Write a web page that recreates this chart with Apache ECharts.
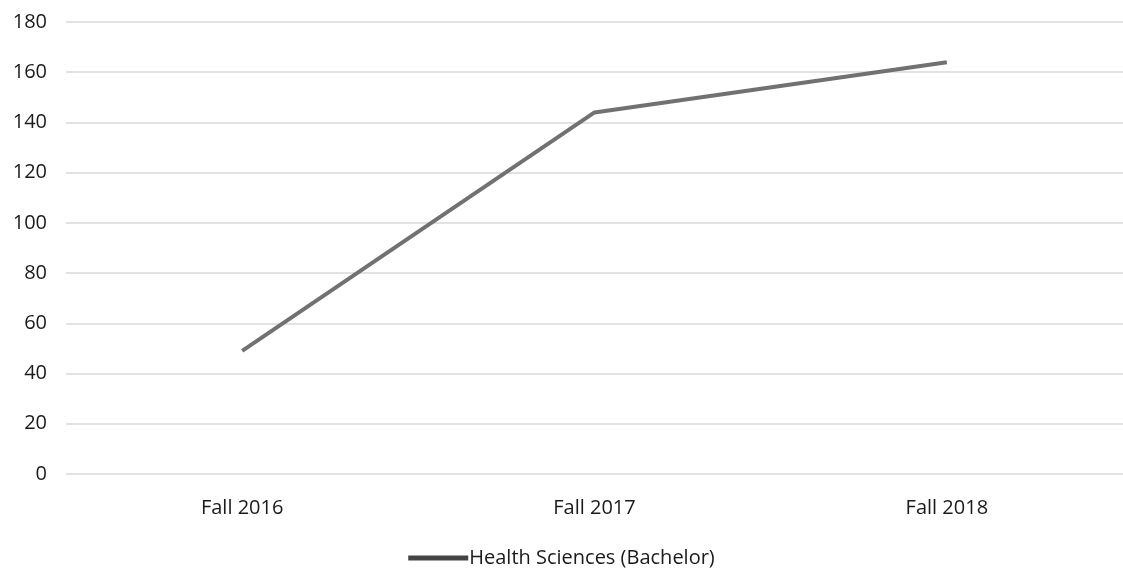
<!DOCTYPE html>
<html>
<head>
<meta charset="utf-8">
<script src="https://cdn.jsdelivr.net/npm/echarts@6/dist/echarts.min.js"></script>
<style>
  html, body { margin: 0; padding: 0; background: #fff; }
  #chart { width: 1123px; height: 573px; }
</style>
</head>
<body>
<div id="chart"></div>
<script>
var categories = ['Fall 2016', 'Fall 2017', 'Fall 2018'];
var seriesName = 'Health Sciences (Bachelor)';
var values = [49, 144, 164];

var myChart = echarts.init(document.getElementById('chart'));
var option = {
    animation: false,
    textStyle: { fontFamily: 'Open Sans, Liberation Sans, sans-serif' },
    grid: { left: 66, right: 0, top: 22, bottom: 99 },
    legend: {
        bottom: 0,
        left: 'center',
        data: [seriesName],
        icon: 'rect',
        itemWidth: 60,
        itemHeight: 5,
        itemGap: 0,
        textStyle: { fontSize: 20, color: '#1a1a1a', padding: [0, 0, 0, -4] }
    },
    xAxis: {
        type: 'category',
        data: categories,
        axisLine: { show: false },
        axisTick: { show: false },
        axisLabel: { fontSize: 20, color: '#1a1a1a', margin: 24 }
    },
    yAxis: {
        type: 'value',
        min: 0,
        max: 180,
        interval: 20,
        axisLine: { show: false },
        axisTick: { show: false },
        axisLabel: { fontSize: 20, color: '#1a1a1a', margin: 19 },
        splitLine: { lineStyle: { color: '#e2e2e2', width: 2 } }
    },
    series: [{
        name: seriesName,
        type: 'line',
        data: values,
        symbol: 'none',
        lineStyle: { color: '#717171', width: 4 },
        itemStyle: { color: '#444' }
    }]
};
myChart.setOption(option);
</script>
</body>
</html>
